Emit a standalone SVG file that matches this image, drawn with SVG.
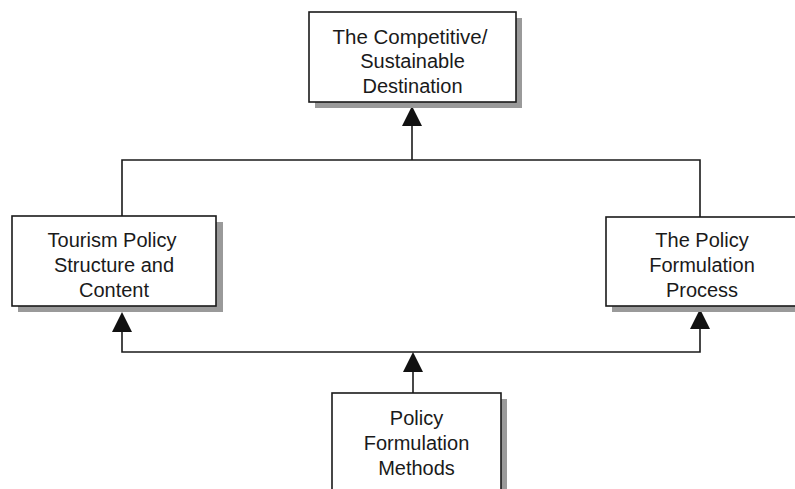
<svg xmlns="http://www.w3.org/2000/svg" width="795" height="489" viewBox="0 0 795 489">
<style>
.shadow{fill:#9a9a9a}
.box{fill:#fff;stroke:#1a1a1a;stroke-width:1.6}
.lbl{font-family:"Liberation Sans",Arial,sans-serif;font-size:20px;fill:#1a1a1a;text-anchor:middle}
.ln{fill:none;stroke:#1a1a1a;stroke-width:1.6}
.ah{fill:#111}
</style>
<rect width="795" height="489" fill="#fff"/>
<g id="connectors">
<polyline class="ln" points="122,216 122,160 700,160 700,217"/>
<line class="ln" x1="412" y1="160" x2="412" y2="124"/>
<polygon class="ah" points="412,106 402,126 422,126"/>
<polyline class="ln" points="122,330 122,352 700,352 700,328"/>
<polygon class="ah" points="122,312 112,332 132,332"/>
<polygon class="ah" points="700,309 690,329 710,329"/>
<line class="ln" x1="413" y1="393" x2="413" y2="370"/>
<polygon class="ah" points="413,352 403,372 423,372"/>
</g>
<g id="n_destination">
<rect class="shadow" x="315" y="18" width="207" height="90"/>
<rect class="box" x="309" y="12" width="207" height="90"/>
<text class="lbl" x="410" y="43.5" style="font-size:20.5px">The Competitive/</text>
<text class="lbl" x="412.5" y="68">Sustainable</text>
<text class="lbl" x="412.5" y="92.5">Destination</text>
</g>
<g id="n_structure">
<rect class="shadow" x="18" y="222" width="205" height="90"/>
<rect class="box" x="12" y="216" width="204" height="90"/>
<text class="lbl" x="112" y="247">Tourism Policy</text>
<text class="lbl" x="114" y="272">Structure and</text>
<text class="lbl" x="114" y="297">Content</text>
</g>
<g id="n_process">
<rect class="shadow" x="612" y="223" width="192" height="89"/>
<rect class="box" x="606" y="217" width="192" height="89"/>
<text class="lbl" x="702" y="247">The Policy</text>
<text class="lbl" x="702" y="272">Formulation</text>
<text class="lbl" x="702" y="297">Process</text>
</g>
<g id="n_methods">
<rect class="shadow" x="338" y="399" width="169" height="100"/>
<rect class="box" x="332" y="393" width="169" height="100"/>
<text class="lbl" x="416.5" y="425">Policy</text>
<text class="lbl" x="416.5" y="450">Formulation</text>
<text class="lbl" x="416.5" y="475">Methods</text>
</g>
</svg>
